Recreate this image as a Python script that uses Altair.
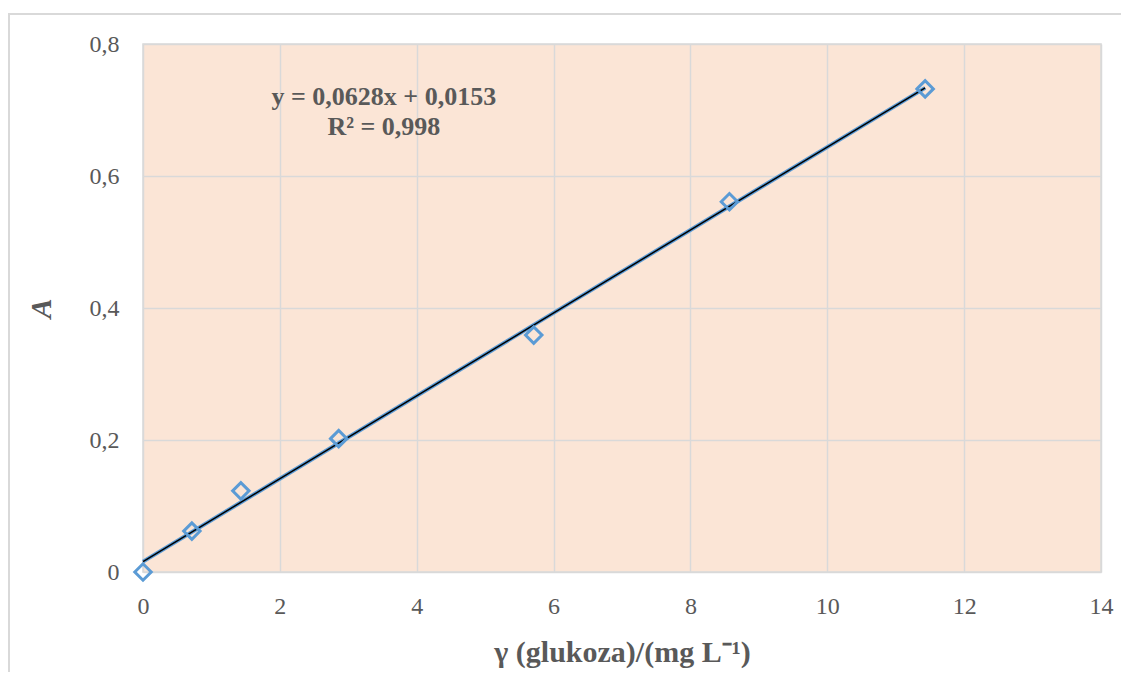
import altair as alt
import pandas as pd

conc = [0.0, 0.714, 1.43, 2.86, 5.71, 8.57, 11.43]
absorb = [0.0, 0.062, 0.123, 0.202, 0.359, 0.561, 0.732]

eq_lines = ["y = 0,0628x + 0,0153", "R² = 0,998"]
eq_x = [3.52, 3.52]
eq_y = [0.720, 0.674]

x_ticks = [0, 2, 4, 6, 8, 10, 12, 14]
y_ticks = [0, 0.2, 0.4, 0.6, 0.8]

df = pd.DataFrame({"x": conc, "y": absorb})
ann = pd.DataFrame({"t": eq_lines, "x": eq_x, "y": eq_y})

FONT = "Liberation Serif"
GRAY = "#595959"

xs = alt.Scale(domain=[0, 14], nice=False)
ys = alt.Scale(domain=[0, 0.8], nice=False)

xax = alt.Axis(values=x_ticks, format="d", title="γ (glukoza)/(mg L⁻¹)", grid=True,
               gridColor="#D9D9D9", gridWidth=1.5, domain=False, ticks=False, labelFont=FONT,
               labelFontSize=24, labelColor=GRAY, labelPadding=22, labelFlush=False,
               labelOverlap=False, titleFont=FONT, titleFontSize=30, titleFontWeight="bold",
               titleColor=GRAY, titlePadding=19)
yax = alt.Axis(values=y_ticks, title="A", grid=True, gridColor="#D9D9D9", gridWidth=1.5,
               domain=False, ticks=False, labelFont=FONT, labelFontSize=24, labelColor=GRAY,
               labelPadding=24, labelFlush=False, labelOverlap=False,
               labelExpr="datum.value == 0 ? '0' : replace(format(datum.value, '.1f'), '.', ',')",
               titleFont=FONT, titleFontSize=30, titleFontWeight="bold", titleFontStyle="italic",
               titleColor=GRAY, titlePadding=33)

base = alt.Chart(df)

border = alt.Chart(pd.DataFrame({"a": [0]})).mark_rect(
    fillOpacity=0, stroke="#D9D9D9", strokeWidth=2
).encode(x=alt.value(-134), x2=alt.value(1200), y=alt.value(-30), y2=alt.value(900))

fit = base.transform_regression("x", "y", extent=[0, 11.43])
fit_glow = fit.mark_line(color="#5B9BD5", strokeWidth=4).encode(
    x=alt.X("x:Q", scale=xs, axis=xax), y=alt.Y("y:Q", scale=ys, axis=yax))
fit_line = fit.mark_line(color="#000000", strokeWidth=1.5).encode(
    x=alt.X("x:Q", scale=xs), y=alt.Y("y:Q", scale=ys))

pts = base.mark_point(shape="diamond", filled=False, color="#5B9BD5", strokeWidth=3,
                      size=270, opacity=1).encode(
    x=alt.X("x:Q", scale=xs), y=alt.Y("y:Q", scale=ys))

txt = alt.Chart(ann).mark_text(font=FONT, fontSize=26, fontWeight="bold", color=GRAY,
                               align="center", baseline="middle").encode(
    x=alt.X("x:Q", scale=xs), y=alt.Y("y:Q", scale=ys), text="t:N")

chart = alt.layer(border, fit_glow, fit_line, pts, txt).properties(
    width=958, height=528,
    background="white",
    autosize=alt.AutoSizeParams(type="none"),
    padding={"left": 135, "top": 36, "right": 20, "bottom": 100},
).configure_view(fill="#FBE5D6", stroke="#D9D9D9", strokeWidth=1.5)

chart.save("out.html", embed_options={"renderer": "svg", "actions": False})
